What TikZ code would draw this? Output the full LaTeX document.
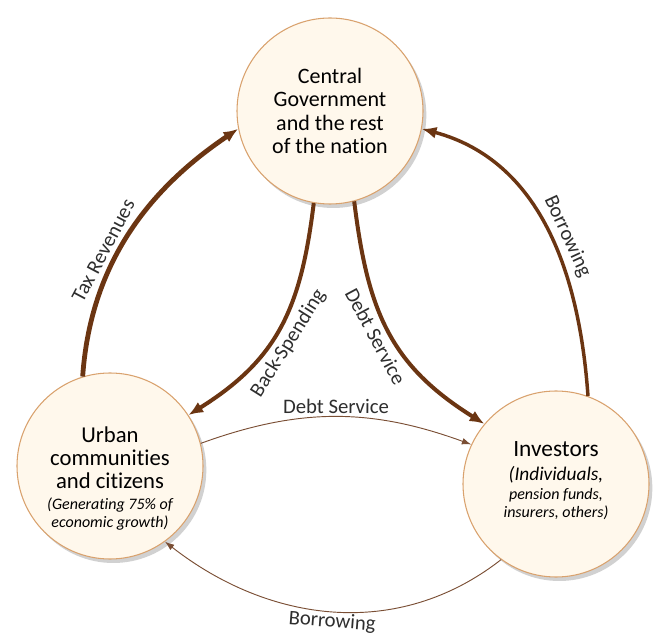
\documentclass[tikz,border=0pt]{standalone}
\usepackage{fontspec}
\setmainfont{Carlito}[Ligatures={NoCommon}]
\usetikzlibrary{arrows.meta,shadows}
\definecolor{fillc}{HTML}{FFF8EC}
\definecolor{edgec}{HTML}{D9A26E}
\definecolor{arrowc}{HTML}{6B3512}
\definecolor{thinc}{HTML}{7A4E34}
\definecolor{labc}{HTML}{2E2E2E}
\tikzset{
  actor/.style={circle, minimum size=139.5pt, inner sep=0pt, fill=fillc, draw=edgec, line width=0.8pt,
    drop shadow={shadow xshift=2.5pt, shadow yshift=-3pt, opacity=0.18, fill=black}},
  bigflow/.style={draw=arrowc, -{Latex[length=11pt,width=9pt]}},
  thinflow/.style={draw=thinc, line width=0.7pt, -{Latex[length=7pt,width=5pt]}},
  flowlabel/.style={text=labc, font=\fontsize{15.5}{17}\selectfont, inner sep=3.5pt, sloped},
  intext/.style={align=center, inner sep=0pt, text=black}
}
\begin{document}
\begin{tikzpicture}[x=0.75pt,y=0.75pt]
\useasboundingbox (0,0) rectangle (653,635);
% circles
\node[actor] (gov) at (330,524) {};
\node[actor] (urban) at (110,169) {};
\node[actor] (inv) at (556,151) {};
% texts
\node[intext, font=\fontsize{16.5}{17.6}\selectfont] (govtext) at (330,524) {Central\\Government\\and the rest\\of the nation};
\node[intext, font=\fontsize{17}{17.3}\selectfont] (urbantext) at (110,177) {Urban\\communities\\and citizens};
\node[intext, font=\fontsize{12}{13.5}\selectfont\itshape] (urbansub) at (110,121) {(Generating 75\% of\\economic growth)};
\node[intext, font=\fontsize{17.5}{18}\selectfont] (invtext) at (556,186) {Investors};
\node[intext, font=\fontsize{14.5}{15}\selectfont\itshape] (invsub1) at (556,160) {(Individuals,};
\node[intext, font=\fontsize{12}{13}\selectfont\itshape] (invsub2) at (556,131) {pension funds,\\insurers, others)};
% thick flows
\draw[bigflow, line width=3.6pt] (urban.107) to[out=86,in=214,looseness=0.97]
  node[flowlabel, pos=0.41, above] (ltax) {Tax Revenues} (gov.191);
\draw[bigflow, line width=3pt] (gov.260) to[out=-97,in=32,looseness=1.1]
  node[flowlabel, pos=0.54, below] (lback) {Back-Spending} (urban.33);
\draw[bigflow, line width=3pt] (gov.285) to[out=-83,in=148,looseness=1.1]
  node[flowlabel, pos=0.49, below] (ldebt1) {Debt Service} (inv.140);
\draw[bigflow, line width=2.6pt] (inv.70) to[out=94,in=-15,looseness=1.0]
  node[flowlabel, pos=0.45, above] (lborr1) {Borrowing} (gov.349);
% thin flows
\draw[thinflow] (urban.14) to[out=20,in=160]
  node[flowlabel, pos=0.5, above, inner sep=2pt] (ldebt2) {Debt Service} (inv.155);
\draw[thinflow] (inv.234) to[out=-142,in=-38]
  node[flowlabel, pos=0.5, below, inner sep=1pt] (lborr2) {Borrowing} (urban.306);
\end{tikzpicture}
\end{document}
